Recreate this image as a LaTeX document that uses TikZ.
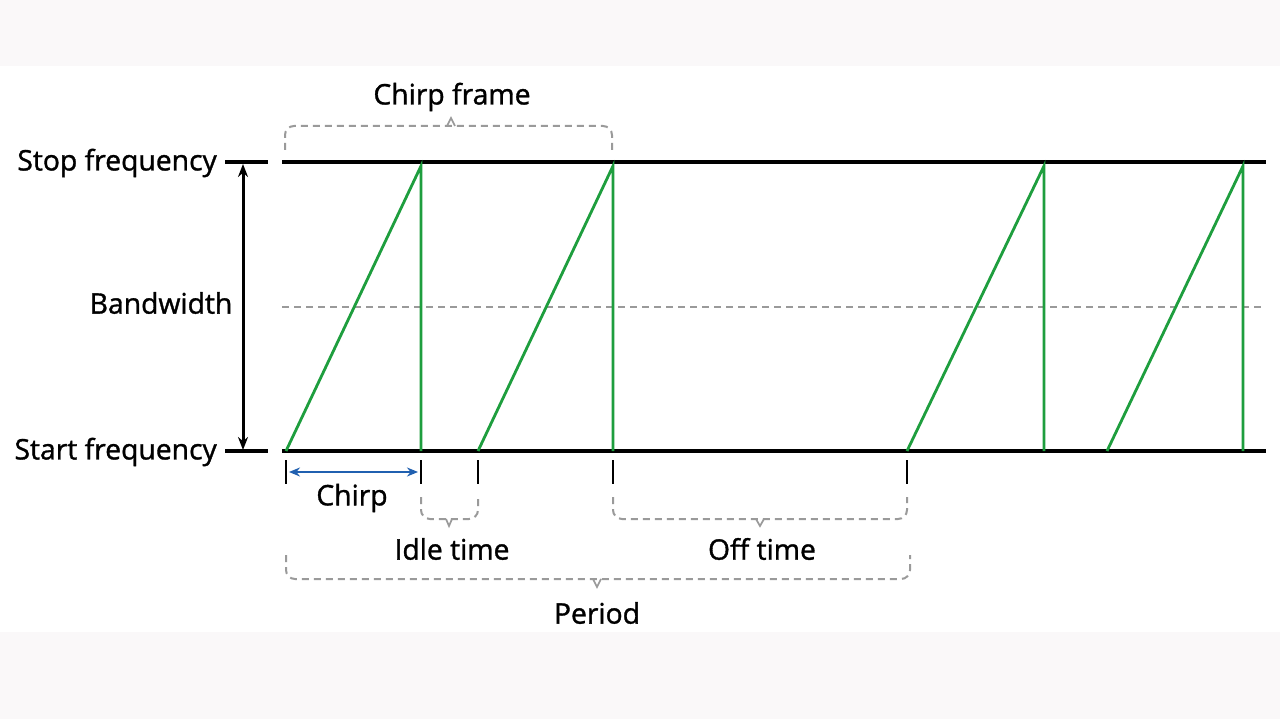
\documentclass[tikz,border=0pt]{standalone}
\usepackage{fontspec}
\setmainfont{Open Sans}
\newfontfamily\lblfont{Open Sans}[FakeBold=1.2]
\usetikzlibrary{arrows.meta}
\definecolor{bandgray}{HTML}{FAF8F9}
\definecolor{chirpgreen}{HTML}{1E9E3E}
\definecolor{chirpblue}{HTML}{2060B0}
\definecolor{dashgray}{HTML}{9A9A9A}
\tikzset{
  axisline/.style={line width=3.2pt, black},
  ramp/.style={line width=2.8pt, chirpgreen},
  tickmark/.style={line width=2.4pt, black},
  brace/.style={line width=2pt, dashgray, dash pattern=on 7pt off 5pt, rounded corners=9pt},
  bracetip/.style={line width=1.7pt, dashgray},
  lbl/.style={font=\lblfont\fontsize{28.3}{32}\selectfont, inner sep=0pt, text=black},
}
\begin{document}
\begin{tikzpicture}[x=1pt,y=-1pt]
\useasboundingbox (0,0) rectangle (1280,719);
\fill[bandgray] (0,0) rectangle (1280,719);
\fill[white] (0,66) rectangle (1280,632);
% labels
\node[lbl, anchor=east] (stop) at (217,163) {Stop frequency};
\node[lbl, anchor=east] (start) at (217,452) {Start frequency};
\node[lbl] (bw) at (161,303) {Bandwidth};
\node[lbl] (cf) at (452,97) {Chirp frame};
\node[lbl] (ch) at (352,498) {Chirp};
\node[lbl] (idle) at (452,549) {Idle time};
\node[lbl] (off) at (762,549) {Off time};
\node[lbl] (per) at (597,613) {Period};
% coordinates
\coordinate (s0) at (225,162); \coordinate (s1) at (268,162);
\coordinate (t0) at (225,451); \coordinate (t1) at (268,451);
\coordinate (S0) at (282,162); \coordinate (S1) at (1266,162);
\coordinate (T0) at (282,451); \coordinate (T1) at (1266,451);
\coordinate (m0) at (282,307); \coordinate (m1) at (1262,307);
\coordinate (b0) at (243,164); \coordinate (b1) at (243,450);
% axis lines
\draw[axisline] (s0) -- (s1);
\draw[axisline] (t0) -- (t1);
\draw[axisline] (S0) -- (S1);
\draw[axisline] (T0) -- (T1);
\draw[line width=1.9pt, dashgray, dash pattern=on 7pt off 5pt] (m0) -- (m1);
\draw[line width=3pt, {Stealth[length=13pt,width=10pt]}-{Stealth[length=13pt,width=10pt]}] (b0) -- (b1);
% ramps
\foreach \a/\b [count=\i] in {286/421, 478/613, 907/1044, 1107/1243}{
  \coordinate (r\i a) at (\a,451);
  \coordinate (r\i b) at (\b,166);
  \coordinate (r\i c) at (\b,451);
  \draw[ramp, line join=miter] (r\i a) -- (r\i b) -- (r\i c);
}
% ticks
\foreach \x [count=\i] in {286,421,478,613,907}{
  \coordinate (k\i a) at (\x,460);
  \coordinate (k\i b) at (\x,484);
  \draw[tickmark] (k\i a) -- (k\i b);
}
% chirp arrow
\coordinate (ca) at (289,472); \coordinate (cb) at (418,472);
\draw[line width=2.6pt, chirpblue, {Stealth[length=11pt,width=9pt]}-{Stealth[length=11pt,width=9pt]}] (ca) -- (cb);
% braces
% idle
\draw[brace] (421,497) -- (421,519) -- (478,519) -- (478,497);
\draw[bracetip] (446,519) -- (449,526) -- (452,519);
% off
\draw[brace] (613,497) -- (613,519) -- (907,519) -- (907,497);
\draw[bracetip] (756,519) -- (760,526) -- (764,519);
% period
\draw[brace] (286,555) -- (286,579) -- (910,579) -- (910,555);
\draw[bracetip] (593,579) -- (597,587) -- (601,579);
% chirp frame
\draw[brace] (285,150) -- (285,126) -- (612,126) -- (612,150);
\draw[bracetip] (447,126) -- (451,118) -- (455,126);
\end{tikzpicture}
\end{document}
